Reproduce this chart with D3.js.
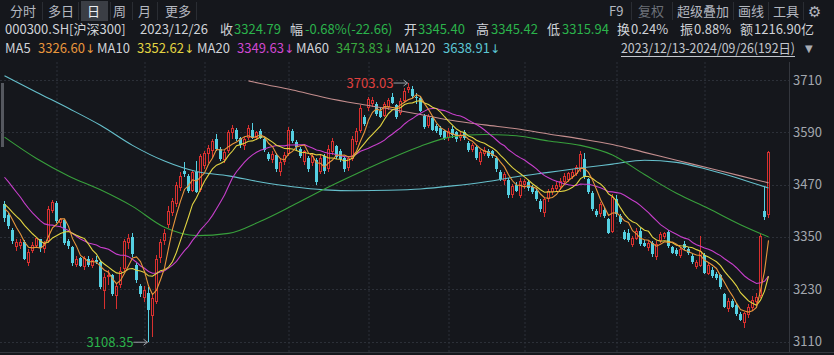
<!DOCTYPE html>
<html>
<head>
<meta charset="utf-8">
<script src="https://cdn.jsdelivr.net/npm/d3@7"></script>
<style>
  html, body { margin: 0; padding: 0; background: #15171c; }
  #chart { width: 834px; height: 355px; }
  text { font-family: "Noto Sans CJK SC", "Noto Sans", sans-serif; }
</style>
</head>
<body>
<div id="chart"></div>
<script>
// daily candles [open, high, low, close], 2023/12/13 .. 2024/09/26
const ohlc = [
  [3425,3432,3385,3393],[3400,3405,3368,3375],[3366,3370,3334,3340],[3326,3346,3318,3338],[3330,3345,3322,3338],
  [3338,3342,3296,3300],[3290,3322,3284,3316],[3318,3338,3312,3332],[3330,3350,3325,3347],[3345.40,3345.42,3315.94,3324.79],
  [3322,3340,3312,3336],[3340,3420,3335,3414],[3410,3435,3405,3431],
  [3428,3432,3383,3386],[3382,3394,3372,3390],[3388,3390,3332,3336],[3340,3346,3322,3328],[3326,3328,3284,3290],
  [3286,3306,3280,3300],[3302,3305,3280,3284],[3282,3306,3274,3302],[3300,3306,3282,3286],[3284,3302,3278,3296],
  [3298,3306,3288,3292],[3292,3296,3230,3236],[3225,3268,3185,3258],[3258,3275,3240,3262],[3262,3265,3215,3220],
  [3215,3245,3185,3238],[3240,3280,3232,3272],[3276,3345,3270,3340],[3336,3356,3322,3348],[3350,3360,3305,3310],
  [3285,3290,3245,3250],[3238,3242,3212,3218],
  [3210,3238,3200,3228],[3222,3235,3108.35,3183],[3168,3216,3120,3210],[3200,3308,3195,3300],[3302,3345,3290,3338],
  [3340,3368,3332,3360],[3378,3420,3370,3410],[3405,3440,3398,3432],[3425,3476,3418,3468],[3462,3498,3455,3490],
  [3502,3522,3488,3494],[3490,3494,3450,3455],[3456,3502,3452,3498],[3500,3524,3450,3454],[3458,3540,3452,3535],
  [3512,3548,3505,3542],[3540,3560,3520,3555],[3548,3575,3530,3570],[3574,3585,3548,3552],[3552,3556,3524,3528],
  [3526,3550,3520,3545],[3548,3595,3542,3590],[3588,3606,3575,3600],[3596,3600,3570,3575],[3576,3580,3555,3560],
  [3558,3580,3550,3575],[3578,3606,3572,3600],[3596,3612,3575,3578],[3578,3594,3572,3590],[3594,3598,3575,3578],
  [3575,3578,3545,3550],[3540,3545,3524,3528],[3526,3548,3520,3540],[3538,3542,3500,3505],[3500,3530,3490,3522],
  [3522,3545,3515,3538],
  [3540,3602,3535,3596],[3594,3598,3565,3570],[3568,3572,3550,3556],[3552,3556,3530,3536],[3522,3550,3515,3546],
  [3532,3536,3500,3505],[3520,3540,3512,3536],[3526,3530,3470,3476],[3500,3538,3495,3532],[3535,3540,3495,3502],
  [3505,3560,3500,3552],[3545,3578,3538,3570],[3558,3562,3528,3534],[3548,3552,3522,3528],[3530,3536,3500,3506],
  [3508,3536,3502,3530],[3528,3582,3524,3575],[3568,3600,3562,3594],[3592,3652,3588,3645],[3625,3630,3605,3610],
  [3645,3672,3640,3666],[3655,3670,3648,3665],[3655,3660,3628,3632],[3640,3645,3622,3626],[3628,3660,3625,3655],
  [3648,3668,3642,3664],[3672,3680,3655,3658],[3652,3655,3620,3626],[3635,3668,3630,3662],[3662,3692,3658,3685],
  [3688,3703.03,3680,3694],[3690,3696,3668,3674],[3672,3680,3655,3668],[3668,3672,3636,3640],[3628,3632,3598,3603],
  [3604,3632,3600,3628],[3622,3628,3592,3596],[3604,3608,3588,3592],[3600,3604,3580,3584],[3592,3596,3572,3578],
  [3578,3600,3570,3594],[3598,3604,3578,3584],[3590,3594,3568,3575],[3576,3590,3570,3584],[3590,3596,3572,3578],
  [3566,3570,3545,3550],[3550,3566,3545,3560],[3556,3560,3526,3530],[3522,3550,3515,3544],[3540,3556,3535,3550],
  [3548,3552,3530,3536],[3546,3550,3530,3535],[3532,3536,3500,3505],[3500,3504,3478,3482],[3478,3500,3470,3495],
  [3480,3485,3440,3446],[3446,3472,3440,3466],[3470,3476,3452,3456],[3444,3484,3440,3478],
  [3468,3482,3460,3478],[3476,3480,3455,3462],[3465,3470,3448,3452],[3456,3460,3432,3436],[3432,3436,3408,3414],
  [3405,3440,3395,3436],[3436,3460,3430,3455],[3452,3470,3445,3462],[3460,3478,3452,3470],[3464,3485,3458,3478],
  [3476,3496,3470,3490],[3480,3500,3475,3496],[3488,3505,3482,3500],[3494,3515,3490,3510],[3505,3546,3500,3540],
  [3528,3542,3482,3488],[3482,3486,3448,3452],[3450,3455,3410,3414],[3410,3414,3396,3400],[3402,3430,3396,3425],
  [3412,3418,3394,3398],[3390,3394,3356,3360],[3362,3448,3358,3442],
  [3436,3445,3396,3402],[3398,3402,3380,3384],[3362,3366,3342,3346],[3360,3368,3338,3342],[3332,3352,3326,3348],
  [3346,3370,3342,3364],[3364,3370,3328,3334],[3336,3342,3326,3330],[3325,3340,3318,3336],[3336,3340,3305,3310],
  [3304,3340,3298,3334],[3340,3362,3335,3356],[3350,3362,3346,3358],[3362,3366,3325,3328],[3326,3330,3310,3314],
  [3320,3324,3306,3310],[3306,3326,3302,3322],[3334,3340,3320,3324],[3322,3326,3308,3312],[3306,3310,3288,3292],
  [3280,3296,3276,3292],[3284,3352,3280,3318],
  [3308,3312,3264,3268],[3266,3292,3262,3286],[3275,3280,3255,3260],[3266,3270,3252,3256],[3262,3266,3230,3234],
  [3218,3222,3186,3190],[3184,3210,3178,3204],[3204,3208,3186,3190],[3194,3198,3168,3172],[3174,3178,3156,3160],
  [3152,3178,3140,3175],[3170,3196,3164,3190],[3186,3215,3180,3205],[3200,3222,3194,3212],[3214,3356,3210,3352],
  [3410,3465,3388,3396],[3400,3548,3394,3545]
];

// closes before the first visible day, needed for MA5/10/20 warm-up
const priorCloses = [3585,3580,3575,3570,3565,3555,3546,3530,3505,3476,3460,3440,3430,3425,3422,3415,3425,3428,3412];

// long averages: [day index, value]
const ma60Pts = [[0,3579],[8,3530],[16,3490],[24,3458],[32,3420],[40,3372],[48,3353],[56,3358],[64,3386],[72,3422],
  [80,3460],[88,3495],[96,3528],[104,3558],[112,3580],[120,3585],[128,3582],[136,3570],[144,3560],[152,3538],
  [160,3493],[168,3450],[176,3415],[184,3378],[191,3350]];
const ma120Pts = [[0,3720],[8,3682],[16,3645],[24,3606],[32,3560],[40,3524],[48,3500],[56,3490],[64,3476],[72,3465],
  [80,3458],[88,3456],[96,3457],[104,3460],[112,3467],[120,3476],[128,3488],[136,3498],[144,3508],[152,3517],
  [160,3526],[168,3521],[176,3504],[184,3483],[191,3462]];
const ma250Pts = [[61,3708],[64,3702],[72,3687],[80,3670],[88,3656],[96,3644],[104,3631],[112,3617],[120,3607],
  [128,3598],[136,3586],[144,3575],[152,3562],[160,3544],[168,3526],[176,3508],[184,3490],[191,3474]];

const monthStarts = [13, 35, 50, 71, 91, 111, 130, 153, 175];
const yTicks = [3710, 3590, 3470, 3350, 3230, 3110];

const tabs = ['分时', '多日', '日', '周', '月', '更多'];
const tools = ['F9', '复权', '超级叠加', '画线', '工具'];
const infoRow = [
  ['000300.SH[沪深300]', '#d0d3d8'], ['2023/12/26', '#d0d3d8'],
  ['收', '#d0d3d8'], ['3324.79', '#2bb34b'], ['幅', '#d0d3d8'], ['-0.68%(-22.66)', '#2bb34b'],
  ['开', '#d0d3d8'], ['3345.40', '#2bb34b'], ['高', '#d0d3d8'], ['3345.42', '#2bb34b'],
  ['低', '#d0d3d8'], ['3315.94', '#2bb34b'], ['换', '#d0d3d8'], ['0.24%', '#d0d3d8'],
  ['振', '#d0d3d8'], ['0.88%', '#d0d3d8'], ['额', '#d0d3d8'], ['1216.90亿', '#d0d3d8']
];
const infoX = [5, 140, 220, 234, 290, 305, 404, 418, 476, 491, 547, 562, 617, 631, 680, 694, 740, 754];
const maLegend = [
  ['MA5', '3326.60', '#e8963c'], ['MA10', '3352.62', '#e2d442'], ['MA20', '3349.63', '#d048d2'],
  ['MA60', '3473.83', '#3aaa3e'], ['MA120', '3638.91', '#5cc6d4']
];
const maLegendX = [[5, 38], [97, 137], [197, 237], [296, 336], [395, 443]];
const rangeLabel = '2023/12/13-2024/09/26(192日)';

const UP = '#d8302f', DOWN = '#55d0e2';

const svg = d3.select('#chart').append('svg').attr('width', 834).attr('height', 355);
svg.append('rect').attr('width', 834).attr('height', 355).attr('fill', '#15171c');

// ---- header ----
const tabX = [10, 48, 87, 113, 138, 165];
svg.append('rect').attr('x', 81).attr('y', 1).attr('width', 27).attr('height', 20).attr('fill', '#3b3e45');
[42, 78, 110, 132, 157, 196, 631, 672, 733, 768, 803].forEach(sx => {
  svg.append('line').attr('x1', sx + 0.5).attr('x2', sx + 0.5).attr('y1', 2).attr('y2', 20)
    .attr('stroke', '#2a2d33');
});
tabs.forEach((t, i) => {
  svg.append('text').attr('x', tabX[i]).attr('y', 16).attr('font-size', 13)
    .attr('fill', t === '日' ? '#eceef2' : '#b4b8c0').text(t);
});
const toolX = [609, 638, 677, 738, 773];
tools.forEach((t, i) => {
  svg.append('text').attr('x', toolX[i]).attr('y', 16).attr('font-size', 13)
    .attr('fill', t === '复权' ? '#6c7078' : '#b4b8c0').text(t);
});
svg.append('text').attr('x', 808).attr('y', 17).attr('font-size', 15)
  .style('font-family', 'DejaVu Sans').attr('fill', '#b4b8c0').text('⚙');

infoRow.forEach(([t, c], i) => {
  svg.append('text').attr('x', infoX[i]).attr('y', 34).attr('font-size', 13).attr('fill', c).text(t);
});
maLegend.forEach(([name, val, c], i) => {
  svg.append('text').attr('x', maLegendX[i][0]).attr('y', 53).attr('font-size', 13).attr('fill', '#d0d3d8').text(name);
  const t = svg.append('text').attr('x', maLegendX[i][1]).attr('y', 53).attr('font-size', 13).attr('fill', c);
  t.append('tspan').text(val);
  t.append('tspan').style('font-family', 'DejaVu Sans').attr('font-size', 12).text('↓');
});
svg.append('text').attr('x', 621).attr('y', 53).attr('font-size', 13).attr('fill', '#c4c7cd')
  .attr('textLength', 174).attr('lengthAdjust', 'spacingAndGlyphs').text(rangeLabel);
svg.append('line').attr('x1', 621).attr('x2', 795).attr('y1', 56.5).attr('y2', 56.5)
  .attr('stroke', '#c4c7cd').attr('stroke-width', 1);
svg.append('text').attr('x', 805).attr('y', 52).attr('font-size', 10)
  .style('font-family', 'DejaVu Sans').attr('fill', '#a8acb4').text('▼');

// ---- plot ----
const x = d3.scaleLinear().domain([0, ohlc.length - 1]).range([4.5, 768.5]);
const y = d3.scaleLinear().domain([3110, 3710]).range([341.5, 80]);

const plot = svg.append('g');
plot.append('rect').attr('x', 1).attr('y', 83).attr('width', 3).attr('height', 64).attr('fill', '#55585f');

// grid
plot.selectAll('.hgrid').data(yTicks).enter().append('line')
  .attr('x1', 0).attr('x2', 789)
  .attr('y1', d => Math.round(y(d)) + 0.5).attr('y2', d => Math.round(y(d)) + 0.5)
  .attr('stroke', '#2c3038').attr('stroke-dasharray', '2,2');
plot.selectAll('.vgrid').data(monthStarts).enter().append('line')
  .attr('x1', d => x(d) + 0.5).attr('x2', d => x(d) + 0.5)
  .attr('y1', 62).attr('y2', 352)
  .attr('stroke', '#2c3038').attr('stroke-dasharray', '2,2');
plot.append('line').attr('x1', 789.5).attr('x2', 789.5).attr('y1', 62).attr('y2', 352).attr('stroke', '#34373e');
plot.append('line').attr('x1', 0).attr('x2', 834).attr('y1', 352.5).attr('y2', 352.5).attr('stroke', '#34373e');

// y axis labels
svg.selectAll('.ylab').data(yTicks).enter().append('text')
  .attr('x', 793).attr('y', d => y(d)).attr('dy', '0.35em')
  .attr('font-size', 13).attr('fill', '#a3a7ae').text(d => d);

// candles
const candles = plot.append('g').attr('shape-rendering', 'crispEdges');
ohlc.forEach(([o, h, l, c], i) => {
  const cx = x(i);
  const up = c >= o;
  const yT = Math.round(y(Math.max(o, c)));
  const yB = Math.round(y(Math.min(o, c)));
  const yH = Math.round(y(h));
  const yL = Math.round(y(l));
  if (up) {
    candles.append('line').attr('x1', cx).attr('x2', cx).attr('y1', yH).attr('y2', yT).attr('stroke', UP);
    candles.append('line').attr('x1', cx).attr('x2', cx).attr('y1', yB).attr('y2', yL).attr('stroke', UP);
    if (yB - yT >= 2) {
      candles.append('rect').attr('x', cx - 1).attr('y', yT + 0.5).attr('width', 2).attr('height', yB - yT - 1)
        .attr('fill', 'none').attr('stroke', UP);
    } else {
      candles.append('rect').attr('x', cx - 1.5).attr('y', yT).attr('width', 3).attr('height', 1).attr('fill', UP);
    }
  } else {
    candles.append('line').attr('x1', cx).attr('x2', cx).attr('y1', yH).attr('y2', yL).attr('stroke', DOWN);
    candles.append('rect').attr('x', cx - 1.5).attr('y', yT).attr('width', 3).attr('height', Math.max(1, yB - yT))
      .attr('fill', DOWN);
  }
});

// moving averages
const closes = ohlc.map(d => d[3]);
const allCloses = priorCloses.concat(closes);
const ma = n => closes.map((_, i) => {
  const end = i + priorCloses.length + 1;
  return d3.mean(allCloses.slice(end - n, end));
});
const lineIdx = d3.line().x((d, i) => x(i)).y(d => y(d));
const linePts = d3.line().x(d => x(d[0])).y(d => y(d[1])).curve(d3.curveMonotoneX);

const maLines = plot.append('g').attr('fill', 'none').attr('stroke-width', 1.1);
maLines.append('path').attr('d', linePts(ma250Pts)).attr('stroke', '#c48e8e');
maLines.append('path').attr('d', linePts(ma120Pts)).attr('stroke', '#66c0cc');
maLines.append('path').attr('d', linePts(ma60Pts)).attr('stroke', '#38a03c');
maLines.append('path').attr('d', lineIdx(ma(20))).attr('stroke', '#c83fcc');
maLines.append('path').attr('d', lineIdx(ma(10))).attr('stroke', '#e2d442');
maLines.append('path').attr('d', lineIdx(ma(5))).attr('stroke', '#e8963c');

// high / low markers
const hiIdx = d3.maxIndex(ohlc, d => d[1]);
const loIdx = d3.minIndex(ohlc, d => d[2]);
function marker(idx, val, color) {
  const cx = x(idx), cy = y(val);
  const g = svg.append('g');
  g.append('text').attr('x', cx - 15).attr('y', cy).attr('dy', '0.35em').attr('text-anchor', 'end')
    .attr('font-size', 13).attr('fill', color).text(val.toFixed(2));
  g.append('path')
    .attr('d', `M${cx - 15},${cy}L${cx - 1},${cy}M${cx - 5},${cy - 3}L${cx - 1},${cy}L${cx - 5},${cy + 3}`)
    .attr('fill', 'none').attr('stroke', '#9a9ea6').attr('stroke-width', 1);
}
marker(hiIdx, ohlc[hiIdx][1], '#e0403f');
marker(loIdx, ohlc[loIdx][2], '#2bb34b');
</script>
</body>
</html>
